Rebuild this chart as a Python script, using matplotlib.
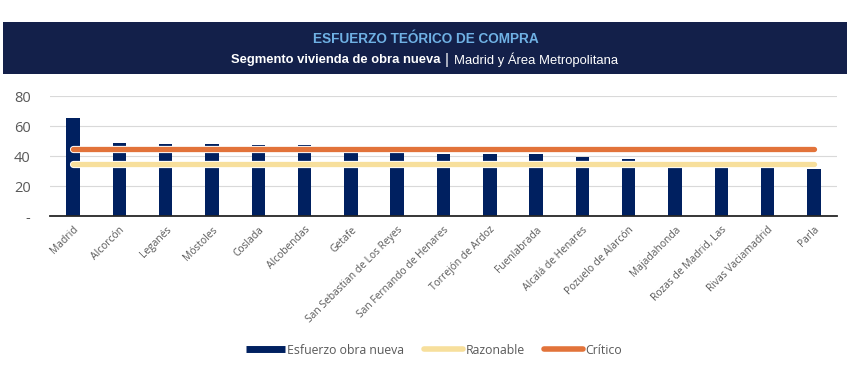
import matplotlib
matplotlib.use("Agg")
import matplotlib.pyplot as plt
from matplotlib.lines import Line2D
from matplotlib.patches import Rectangle
import matplotlib.patheffects as pe
import numpy as np

categories = ["Madrid", "Alcorcón", "Leganés", "Móstoles", "Coslada", "Alcobendas",
              "Getafe", "San Sebastian de Los Reyes", "San Fernando de Henares",
              "Torrejón de Ardoz", "Fuenlabrada", "Alcalá de Henares",
              "Pozuelo de Alarcón", "Majadahonda", "Rozas de Madrid, Las",
              "Rivas Vaciamadrid", "Parla"]
esfuerzo = [65.1, 48.9, 47.8, 47.8, 47.1, 47.1, 45.5, 45.0, 41.1, 41.1, 41.1,
            39.1, 37.8, 33.6, 31.8, 31.8, 31.1]
razonable = [35] * len(categories)
critico = [45] * len(categories)
yticks = [0, 20, 40, 60, 80]
yticklabels = ["-", "20", "40", "60", "80"]

NAVY = "#002060"
YELLOW = "#F7DF9C"
ORANGE = "#E2733A"
GREY = "#595959"
HEADER = "#13204A"

plt.rcParams['font.family'] = ['Open Sans', 'DejaVu Sans']
HFONT = ['Liberation Sans', 'DejaVu Sans']

fig = plt.figure(figsize=(8.5, 3.71), dpi=100)
W, H = 850, 371

# header band
fig.patches.append(Rectangle((3/W, 1-74/H), 844/W, 52/H,
                             transform=fig.transFigure, facecolor=HEADER,
                             edgecolor="none", zorder=0))
fig.text(426/W, 1-39/H, "ESFUERZO TEÓRICO DE COMPRA", ha="center", va="center",
         color="#6FB1E4", fontsize=9.8, fontweight="bold", family=HFONT)
fig.text(440/W, 1-60/H, "Segmento vivienda de obra nueva", ha="right", va="center",
         color="white", fontsize=9.4, fontweight="bold", family=HFONT)
fig.text(447/W, 1-60/H, "|", ha="center", va="center",
         color="white", fontsize=11, family=HFONT)
fig.text(454/W, 1-60/H, "Madrid y Área Metropolitana", ha="left", va="center",
         color="white", fontsize=9.4, family=HFONT)

ax = fig.add_axes([50/W, 1-216/H, 787/W, 120/H])
x = np.arange(len(categories))
ax.bar(x, esfuerzo, width=0.29, color=NAVY, zorder=2)
stroke = [pe.Stroke(linewidth=5.2, foreground="white"), pe.Normal()]
ax.plot(x, razonable, color=YELLOW, lw=3.8, solid_capstyle="round", zorder=3,
        path_effects=stroke)
ax.plot(x, critico, color=ORANGE, lw=3.8, solid_capstyle="round", zorder=4,
        path_effects=stroke)

ax.set_xlim(-0.5, len(categories) - 0.5)
ax.set_ylim(0, 80)
ax.set_yticks(yticks)
ax.set_yticklabels(yticklabels, color=GREY, fontsize=10.5)
ax.yaxis.grid(True, color="#D9D9D9", lw=0.8, zorder=0)
ax.set_axisbelow(True)
ax.set_xticks(x)
ax.set_xticklabels(categories, rotation=45, ha="right", rotation_mode="anchor",
                   color=GREY, fontsize=7.4)
ax.tick_params(axis="both", length=0)
ax.tick_params(axis="x", pad=6)
ax.tick_params(axis="y", pad=14)
for s in ["top", "right", "left"]:
    ax.spines[s].set_visible(False)
ax.spines["bottom"].set_color("#262626")
ax.spines["bottom"].set_linewidth(1.3)
ax.spines["bottom"].set_zorder(5)

handles = [Line2D([], [], color=NAVY, lw=5, solid_capstyle="butt"),
           Line2D([], [], color=YELLOW, lw=4, solid_capstyle="round"),
           Line2D([], [], color=ORANGE, lw=4, solid_capstyle="round")]
fig.legend(handles, ["Esfuerzo obra nueva", "Razonable", "Crítico"],
           loc="center", bbox_to_anchor=(434/W, 1-350/H), ncol=3,
           frameon=False, fontsize=8.8, labelcolor=GREY, handlelength=3.2,
           handletextpad=0.2, columnspacing=1.6)

fig.savefig("out.png", dpi=100)
